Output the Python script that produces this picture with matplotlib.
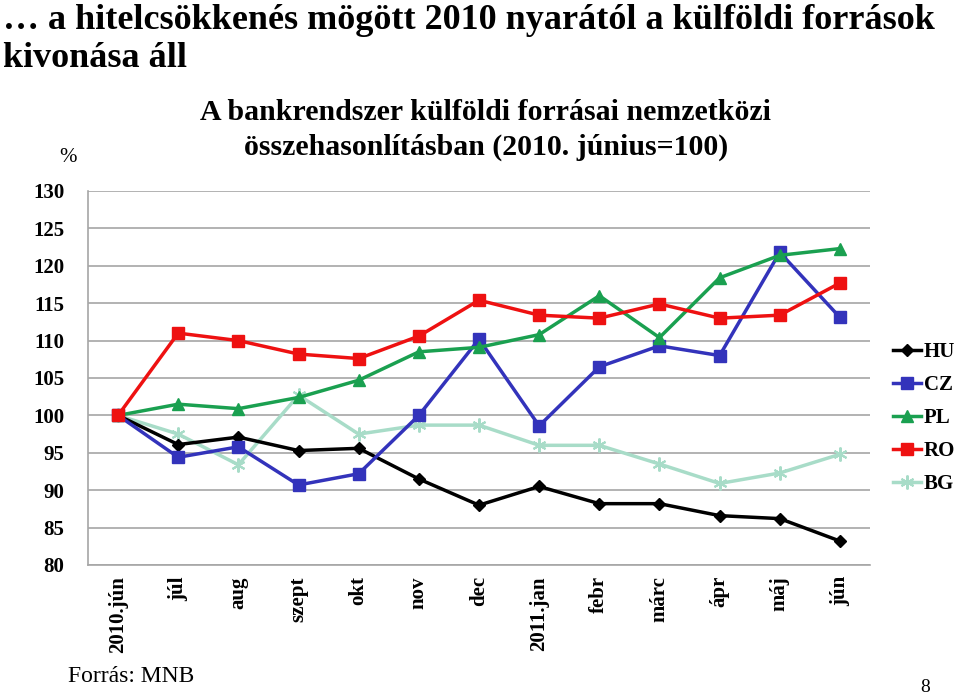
import matplotlib
matplotlib.use("Agg")
import matplotlib.pyplot as plt

months = ["2010.jún", "júl", "aug", "szept", "okt", "nov", "dec",
          "2011.jan", "febr", "márc", "ápr", "máj", "jún"]
hu = [100, 96.1, 97.1, 95.3, 95.6, 91.5, 88.0, 90.5, 88.2, 88.2, 86.6, 86.2, 83.2]
cz = [100, 94.4, 95.8, 90.7, 92.2, 100.0, 110.2, 98.6, 106.5, 109.3, 108.0, 121.8, 113.1]
pl = [100, 101.5, 100.9, 102.4, 104.7, 108.5, 109.1, 110.8, 116.0, 110.4, 118.4, 121.4, 122.3]
ro = [100, 111.0, 110.0, 108.2, 107.6, 110.6, 115.4, 113.4, 113.0, 114.9, 113.0, 113.4, 117.7]
bg = [100, 97.5, 93.4, 102.7, 97.5, 98.7, 98.7, 96.0, 96.0, 93.5, 90.9, 92.3, 94.8]
yticks = [80, 85, 90, 95, 100, 105, 110, 115, 120, 125, 130]

serif = "Liberation Serif"
fig = plt.figure(figsize=(9.6, 6.97), dpi=100)
ax = fig.add_axes([88/960, 1-565/697, (870-88)/960, (565-191)/697])

x = list(range(len(months)))
series = [
    ("HU", hu, "#000000", "D", 6, 2.5),
    ("CZ", cz, "#3333BB", "s", 8, 2.5),
    ("PL", pl, "#1AA050", "^", 8, 2.5),
    ("RO", ro, "#EE1111", "s", 8, 2.5),
    ("BG", bg, "#A8DCC8", (6, 2, 0), 10, 2.5),
]
order = ["BG", "HU", "CZ", "PL", "RO"]
handles = {}
for name, vals, col, mk, ms, lw in series:
    mew = 1.5 if name == "BG" else 1
    ln, = ax.plot(x, vals, color=col, marker=mk, markersize=ms, linewidth=lw,
                  markeredgewidth=mew, label=name,
                  zorder=3 + order.index(name))
    handles[name] = ln

ax.set_xlim(-0.5, len(months) - 0.5)
ax.set_ylim(80, 130)
ax.set_yticks(yticks)
ax.set_yticklabels([str(v) for v in yticks], fontfamily=serif,
                   fontweight="bold", fontsize=15)
ax.set_xticks(x)
ax.set_xticklabels(months, rotation=90, fontfamily=serif, fontweight="bold",
                   fontsize=15, va="top")
ax.tick_params(axis="both", length=0, pad=8)
ax.tick_params(axis="y", pad=17)
ax.grid(axis="y", color="#A6A6A6", linewidth=1.2)
ax.set_axisbelow(True)
for s in ["top", "right"]:
    ax.spines[s].set_visible(False)
ax.spines["left"].set_color("#A6A6A6")
ax.spines["bottom"].set_color("#A6A6A6")
ax.spines["left"].set_linewidth(1.2)
ax.spines["bottom"].set_linewidth(1.2)

leg = fig.legend([handles[n] for n in ["HU", "CZ", "PL", "RO", "BG"]],
                 ["HU", "CZ", "PL", "RO", "BG"],
                 loc="center left", bbox_to_anchor=(893/960, 1-418/697),
                 frameon=False, prop={"family": serif, "weight": "bold", "size": 15},
                 handlelength=1.35, handletextpad=0.12, labelspacing=0.62,
                 borderaxespad=0, borderpad=0)

fig.text(0.003, 1-4/697, "… a hitelcsökkenés mögött 2010 nyarától a külföldi források\nkivonása áll",
         fontfamily=serif, fontweight="bold", fontsize=26, va="top", ha="left",
         linespacing=1.2)
fig.text(486/960, 1-99/697, "A bankrendszer külföldi forrásai nemzetközi\nösszehasonlításban (2010. június=100)",
         fontfamily=serif, fontweight="bold", fontsize=21.5, va="top", ha="center",
         linespacing=1.35)
fig.text(68/960, 1-158/697, "%", fontfamily=serif, fontsize=15, ha="center", va="center")
fig.text(68/960, 1-677/697, "Forrás: MNB", fontfamily=serif, fontsize=17, ha="left", va="center")
fig.text(925/960, 1-688/697, "8", fontfamily=serif, fontsize=14, ha="center", va="center")

fig.savefig("out.png", dpi=100)
